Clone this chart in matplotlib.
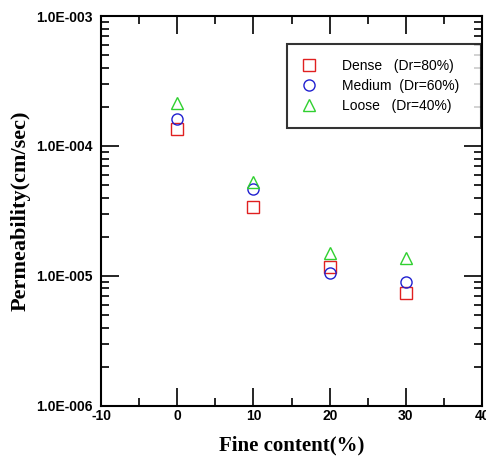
import numpy as np
import matplotlib
matplotlib.use("Agg")
import matplotlib.pyplot as plt
from matplotlib.ticker import FixedLocator, LogLocator, NullFormatter

# data
fines = [0, 10, 20, 30]
dense = [1.35e-4, 3.4e-5, 1.18e-5, 7.4e-6]
medium = [1.61e-4, 4.65e-5, 1.06e-5, 9.0e-6]
loose = [2.13e-4, 5.3e-5, 1.49e-5, 1.38e-5]
names = ["Dense", "Medium", "Loose"]
dr = ["(Dr=80%)", "(Dr=60%)", "(Dr=40%)"]

fig = plt.figure(figsize=(4.86, 4.59), dpi=100)
ax = fig.add_axes([0.208, 0.116, 0.784, 0.849])

ax.plot(fines, dense, 's', ms=8, mfc='none', mec='#e02020', mew=1.0, label=names[0])
ax.plot(fines, medium, 'o', ms=8, mfc='none', mec='#2020d0', mew=1.0, label=names[1])
ax.plot(fines, loose, '^', ms=8, mfc='none', mec='#30d030', mew=1.0, label=names[2])

ax.set_yscale('log')
ax.set_xlim(-10, 40)
ax.set_ylim(1e-6, 1e-3)
ax.xaxis.set_major_locator(FixedLocator([-10, 0, 10, 20, 30, 40]))
ax.xaxis.set_minor_locator(FixedLocator([-5, 5, 15, 25, 35]))
ax.yaxis.set_major_locator(FixedLocator([1e-6, 1e-5, 1e-4, 1e-3]))
ax.yaxis.set_minor_locator(LogLocator(base=10, subs=np.arange(2, 10)))
ax.yaxis.set_minor_formatter(NullFormatter())
ax.set_yticklabels(["1.0E-006", "1.0E-005", "1.0E-004", "1.0E-003"])
ax.set_xticklabels(["-10", "0", "10", "20", "30", "40"])

ax.tick_params(which='both', direction='in', top=True, right=True, width=1.2)
ax.tick_params(which='major', length=13)
ax.tick_params(which='minor', length=6)
ax.tick_params(axis='x', which='major', pad=2)
ax.tick_params(axis='y', which='major', pad=6)
for lab in ax.get_xticklabels() + ax.get_yticklabels():
    lab.set_family('Liberation Sans')
    lab.set_fontweight('bold')
    lab.set_fontsize(10)
for s in ax.spines.values():
    s.set_linewidth(1.5)

ax.set_xlabel("Fine content(%)", family='Liberation Serif', fontweight='bold', fontsize=15, labelpad=9)
ax.set_ylabel("Permeability(cm/sec)", family='Liberation Serif', fontweight='bold', fontsize=16, labelpad=4)

leg = ax.legend(loc='upper left', bbox_to_anchor=(0.488, 0.928), prop={'family': 'Liberation Sans', 'size': 10},
                frameon=True, fancybox=False, edgecolor='black', handletextpad=1.9,
                borderpad=1.05, labelspacing=0.45, borderaxespad=0, handlelength=1.0)
leg.get_frame().set_linewidth(1.5)
for t, d in zip(leg.get_texts(), dr):
    t.set_text(f"{t.get_text():<8s}{d}  ")

fig.savefig("out.png", dpi=100)
